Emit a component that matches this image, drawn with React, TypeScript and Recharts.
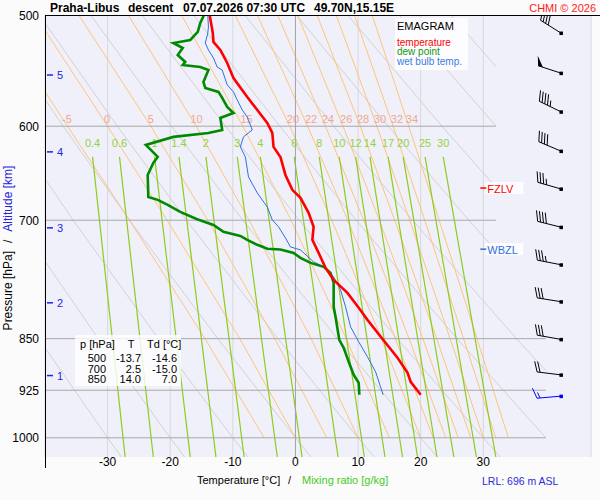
import React from 'react'
import { ScatterChart, Scatter, XAxis, YAxis, CartesianGrid } from 'recharts'

const FONT = '"Liberation Sans", Arial, sans-serif'

// axes
const tempTicks = [-30, -20, -10, 0, 10, 20, 30]
const pressureTicks = [500, 600, 700, 850, 925, 1000]
const isobarP = [600, 700, 850, 925, 1000]
const isobarEndT = [32, 32, 40, 40, 40]

// sounding: temperature
const tempP = [500, 515, 522.6, 529.5, 540.9, 554.4, 571.9, 584.2, 596.8, 606.7, 620.7, 631, 649.9, 666, 674.8, 691.6, 707.6, 722.9, 738.5, 756.9, 771.9, 788.5, 808.1, 824.2, 851.6, 877.1, 898.9, 912.3, 931.9]
const tempT = [-13.7, -13.2, -13.1, -12.0, -10.9, -9.9, -7.7, -6.1, -4.5, -3.7, -3.5, -2.4, -1.6, -0.5, 0.8, 2.1, 2.9, 2.7, 3.7, 4.8, 6.1, 8.3, 10.1, 11.5, 14.0, 16.3, 17.9, 18.4, 20.0]

// sounding: dew point
const dewP = [500, 506.6, 514.1, 520.9, 523.5, 527.8, 533.9, 540, 542.7, 544.5, 547.2, 558, 563.5, 567.2, 572.8, 581.4, 587.1, 591.9, 603.7, 606.7, 610.6, 618.7, 623.8, 631, 637.2, 649.9, 673.8, 677, 682.6, 690.5, 698.5, 705.4, 713.5, 718.2, 722.9, 728.8, 733.6, 734.5, 738.5, 744.6, 750.7, 755.6, 763.1, 775.7, 806.8, 820.1, 851.6, 862.8, 882.8, 901.9, 913.8, 931.9]
const dewT = [-14.6, -15.2, -15.6, -16.8, -19.5, -18.0, -18.8, -17.6, -18.0, -15.2, -13.9, -14.7, -14.4, -12.3, -11.7, -10.9, -9.9, -12.0, -11.7, -13.9, -19.5, -23.9, -23.1, -22.0, -22.7, -23.6, -23.5, -22.0, -20.4, -18.4, -15.8, -13.1, -11.5, -8.8, -7.7, -6.1, -4.5, -2.4, -0.3, 0.8, 2.4, 4.5, 5.6, 6.1, 6.1, 6.4, 7.0, 7.7, 8.5, 9.3, 10.1, 10.2]

// sounding: wet bulb
const wbP = [500, 509.9, 515, 523.5, 529.5, 536.5, 544.5, 547.2, 560.7, 567.2, 574.7, 584.2, 591, 603.7, 610.6, 620.7, 631, 652, 669.3, 684.9, 699.6, 707.6, 720.6, 731.3, 734.9, 749.5, 755.6, 768.1, 784.6, 806.8, 833.7, 854.4, 875.7, 897.5, 931.9]
const wbT = [-14.0, -13.9, -14.0, -14.4, -13.9, -13.1, -12.5, -11.7, -10.9, -9.9, -9.3, -8.5, -7.7, -6.9, -8.3, -8.8, -8.0, -7.5, -6.1, -4.5, -3.7, -2.7, -1.6, -0.8, 0.8, 2.9, 4.6, 6.1, 7.2, 8.0, 8.8, 10.1, 11.5, 12.8, 14.0]

// saturated adiabats (wet bulb potential temperature)
const moistTheta = [-5, 0, 5, 10, 15, 20, 22, 24, 26, 28, 30, 32, 34]
const moistP = [500, 600, 700, 850, 1000]
const moistT = [
  [-48.0, -36.4, -26.5, -14.45, -5],
  [-41.6, -30.0, -20.5, -8.9, 0],
  [-34.6, -23.1, -14.0, -3.3, 5],
  [-26.7, -15.85, -7.4, 2.5, 10],
  [-18.2, -8.4, -0.7, 8.1, 15],
  [-9.65, -0.9, 5.8, 13.75, 20],
  [-6.1, 1.95, 8.35, 15.95, 22],
  [-2.85, 4.8, 10.9, 18.15, 24],
  [0.35, 7.6, 13.4, 20.35, 26],
  [3.45, 10.35, 15.85, 22.55, 28],
  [6.5, 13.0, 18.25, 24.7, 30],
  [9.4, 15.6, 20.65, 26.85, 32],
  [12.25, 18.1, 22.95, 29.0, 34],
]
const moistLabelT = [-36.5, -30.1, -23.1, -15.8, -7.8, -0.4, 2.5, 5.2, 8.1, 10.8, 13.5, 16.2, 18.6]

// dry adiabats
const dryP = [
  [500, 600, 700, 850, 1000, 1032],
  [500, 600, 700, 850, 1000, 1032],
  [500, 600, 700, 850, 1000, 1032],
  [500, 600, 700, 850, 1000, 1032],
  [500, 600, 700, 850, 1000, 1032],
  [500, 600, 700, 850, 1000, 1032],
  [500, 600, 700, 850, 1000, 1032],
  [500, 600, 700, 850, 1000],
  [500, 600, 700, 850, 895.7],
  [500, 600, 700, 735.5],
  [500, 600, 663.1],
  [500, 599.7],
  [500, 543.9],
]
const dryT = [
  [-73.7, -63.0, -53.6, -41.0, -30, -27.8],
  [-65.5, -54.4, -44.5, -31.5, -20, -17.7],
  [-57.3, -45.7, -35.5, -21.9, -10, -7.6],
  [-49.1, -37.1, -26.5, -12.4, 0, 2.5],
  [-40.9, -28.45, -17.4, -2.8, 10, 12.6],
  [-32.7, -19.8, -8.4, 6.7, 20, 22.65],
  [-24.5, -11.2, 0.6, 16.25, 30, 32.7],
  [-16.3, -2.5, 9.7, 25.8, 40],
  [-8.1, 6.1, 18.7, 35.3, 40],
  [0.15, 14.8, 27.7, 32],
  [8.35, 23.4, 32],
  [16.55, 32],
  [24.8, 32],
]

// saturation mixing ratio lines [g/kg]
const mixRatio = ['0.4', '0.6', '1', '1.4', '2', '3', '4', '6', '8', '10', '12', '14', '17', '20', '25', '30']
const mixTopP = 631
const mixBottomP = 1032
const mixTopT = [-32.4, -28.1, -22.5, -18.6, -14.3, -9.3, -5.6, -0.2, 3.8, 7.0, 9.6, 11.9, 14.8, 17.2, 20.7, 23.6]
const mixBottomT = [-27.2, -22.7, -16.8, -12.7, -8.2, -2.9, 1.05, 6.8, 11.0, 14.3, 17.1, 19.5, 22.6, 25.3, 28.9, 32.0]

// altitude marks [km]
const heightKm = [1, 2, 3, 4, 5]
const heightP = [903, 801.5, 708.8, 625.8, 551.7]

// freezing / wet bulb zero levels
const levelName = ['FZLV', 'WBZL']
const levelP = [664, 734]
const levelColor = ['#ff0000', '#2f6fe0']

// wind barbs
const windP = [515, 550, 586, 625, 665, 708, 753, 800, 851, 902, 934]
const windDir = [302, 288, 296, 293, 286, 284, 281, 279, 280, 277, 265]
const windKt = [40, 50, 45, 40, 35, 40, 35, 30, 30, 20, 15]

const toPts = (ps: number[], ts: number[]) => ps.map((p, i) => ({ p, t: ts[i] }))

const EmptyShape = () => <g />

function MoistLabel(props: any) {
  const { cx, cy, payload } = props
  return (
    <text x={cx} y={cy - 3} textAnchor="middle" fontSize={11} fontFamily={FONT} fill="#f4a58e">
      {payload.label}
    </text>
  )
}

function MixLabel(props: any) {
  const { cx, cy, payload } = props
  return (
    <text x={cx} y={cy - 10} textAnchor="middle" fontSize={11} fontFamily={FONT} fill="#94d23a">
      {payload.label}
    </text>
  )
}

function HeightMark(props: any) {
  const { cx, cy, payload } = props
  return (
    <g>
      <line x1={cx + 2} y1={cy} x2={cx + 8} y2={cy} stroke="#2424dd" strokeWidth={1.5} />
      <text x={cx + 12} y={cy + 4} fontSize={11} fontFamily={FONT} fill="#2424dd">{payload.label}</text>
    </g>
  )
}

function LevelMark(props: any) {
  const { cx, cy, payload } = props
  return (
    <g>
      <rect x={cx + 2} y={cy - 6} width={38} height={12} fill="#ffffff" fillOpacity={0.85} />
      <line x1={cx - 3} y1={cy} x2={cx + 3} y2={cy} stroke={payload.color} strokeWidth={1.5} />
      <text x={cx + 4} y={cy + 4.5} fontSize={11} fontFamily={FONT} fill={payload.color}>{payload.label}</text>
    </g>
  )
}

function WindBarb(props: any) {
  const { cx, cy, payload } = props
  const color = payload.color
  const a = (payload.dir * Math.PI) / 180
  const ux = Math.sin(a)
  const uy = -Math.cos(a)
  const L = 24
  const ex = cx + ux * L
  const ey = cy + uy * L
  const px = -uy
  const py = ux
  const fx = px * 0.94 + ux * 0.34
  const fy = py * 0.94 + uy * 0.34
  const parts: any[] = []
  let s = payload.spd
  let pos = 0
  while (s >= 50) {
    const bx = ex - ux * pos
    const by = ey - uy * pos
    const b2x = ex - ux * (pos + 5)
    const b2y = ey - uy * (pos + 5)
    parts.push(<polygon key={'p' + pos} points={`${bx},${by} ${b2x},${b2y} ${bx + fx * 10},${by + fy * 10}`} fill={color} />)
    pos += 6
    s -= 50
  }
  while (s >= 10) {
    const bx = ex - ux * pos
    const by = ey - uy * pos
    parts.push(<line key={'f' + pos} x1={bx} y1={by} x2={bx + fx * 11} y2={by + fy * 11} stroke={color} strokeWidth={1} />)
    pos += 3
    s -= 10
  }
  if (s >= 5) {
    if (pos === 0) pos = 3
    const bx = ex - ux * pos
    const by = ey - uy * pos
    parts.push(<line key="h" x1={bx} y1={by} x2={bx + fx * 6} y2={by + fy * 6} stroke={color} strokeWidth={1} />)
  }
  return (
    <g>
      <line x1={cx} y1={cy} x2={ex} y2={ey} stroke={color} strokeWidth={1} />
      {parts}
      <rect x={cx - 1.5} y={cy - 1.5} width={3.5} height={3.5} fill={color} />
    </g>
  )
}

function curve(key: string, data: any[], stroke: string, width: number) {
  return (
    <Scatter
      key={key}
      data={data}
      fill="none"
      line={{ stroke, strokeWidth: width }}
      shape={EmptyShape}
      isAnimationActive={false}
      legendType="none"
    />
  )
}

export default function App() {
  const isobars = isobarP.map((p, i) => toPts([p, p], [-40, isobarEndT[i]]))
  const dry = dryP.map((ps, i) => toPts(ps, dryT[i]))
  const moist = moistT.map((ts) => toPts(moistP, ts))
  const mix = mixTopT.map((t, i) => toPts([mixTopP, mixBottomP], [t, mixBottomT[i]]))
  const moistLabels = moistTheta.map((th, i) => ({ p: 600, t: moistLabelT[i], label: String(th) }))
  const mixLabels = mixRatio.map((w, i) => ({ p: mixTopP, t: mixTopT[i], label: w }))
  const heights = heightKm.map((h, i) => ({ p: heightP[i], t: -40, label: String(h) }))
  const levels = levelName.map((n, i) => ({ p: levelP[i], t: 30, label: n, color: levelColor[i] }))
  const winds = windP.map((p, i) => ({
    p,
    t: 42.4,
    dir: windDir[i],
    spd: windKt[i],
    color: i === windP.length - 1 ? '#0000ff' : '#000000',
  }))

  const tick = (anchor: 'x' | 'y') => (props: any) => {
    const { x, y, payload } = props
    if (anchor === 'x') {
      return (
        <text x={x} y={466} textAnchor="middle" fontSize={12} fontFamily={FONT} fill="#000">
          {payload.value}
        </text>
      )
    }
    return (
      <text x={39} y={y + 4.5} textAnchor="end" fontSize={12} fontFamily={FONT} fill="#000">
        {payload.value}
      </text>
    )
  }

  return (
    <div style={{ position: 'absolute', left: 0, top: 0, width: 600, height: 500, background: '#fbfbfb', fontFamily: FONT }}>
      <ScatterChart width={600} height={500} margin={{ top: 15, right: 9, left: 0, bottom: 0 }}>
        <CartesianGrid fill="#f0f0fb" horizontal={false} stroke="#d8d8d8" />
        <XAxis
          type="number"
          dataKey="t"
          domain={[-40, 47.2]}
          ticks={tempTicks}
          allowDataOverflow
          axisLine={false}
          tickLine={false}
          height={43}
          tick={tick('x')}
        />
        <YAxis
          type="number"
          dataKey="p"
          scale="log"
          domain={[500, 1032]}
          reversed
          ticks={pressureTicks}
          allowDataOverflow
          axisLine={false}
          tickLine={false}
          width={45}
          tick={tick('y')}
        />
        {dry.map((d, i) => curve('dry' + i, d, '#d2d2d2', 1))}
        {moist.map((d, i) => curve('moist' + i, d, '#ffc47c', 1))}
        {mix.map((d, i) => curve('mix' + i, d, '#8ccc1c', 1.2))}
        {curve('iso0', toPts([500, 1032], [0, 0]), '#a4a4a4', 1)}
        {isobars.map((d, i) => curve('isobar' + i, d, '#a8a8a8', 1))}
        <Scatter data={moistLabels} shape={MoistLabel} isAnimationActive={false} legendType="none" />
        <Scatter data={mixLabels} shape={MixLabel} isAnimationActive={false} legendType="none" />
        <Scatter data={heights} shape={HeightMark} isAnimationActive={false} legendType="none" />
        {curve('wetbulb', toPts(wbP, wbT), '#2f6fe0', 1)}
        {curve('dew', toPts(dewP, dewT), '#008a00', 2.6)}
        {curve('temp', toPts(tempP, tempT), '#ff0000', 2.6)}
        <Scatter data={levels} shape={LevelMark} isAnimationActive={false} legendType="none" />
        <Scatter data={winds} shape={WindBarb} isAnimationActive={false} legendType="none" />
      </ScatterChart>

      <svg width={600} height={500} style={{ position: 'absolute', left: 0, top: 0, pointerEvents: 'none' }}>
        <line x1={45} y1={15.5} x2={600} y2={15.5} stroke="#000" strokeWidth={1} />
        <line x1={45.5} y1={15} x2={45.5} y2={468} stroke="#000" strokeWidth={1} />

        <g fontFamily={FONT} fontSize={12} fontWeight="bold" fill="#000">
          <text x={50} y={11.5}>Praha-Libus</text>
          <text x={128} y={11.5}>descent</text>
          <text x={183} y={11.5}>07.07.2026 07:30 UTC</text>
          <text x={314} y={11.5}>49.70N,15.15E</text>
        </g>
        <text x={596} y={11.5} textAnchor="end" fontFamily={FONT} fontSize={11} fill="#ff1a1a">CHMI © 2026</text>

        <rect x={395} y={18} width={73} height={52} fill="#ffffff" fillOpacity={0.85} />
        <text x={397} y={30} fontFamily={FONT} fontSize={11} fill="#000">EMAGRAM</text>
        <text x={397} y={45.5} fontFamily={FONT} fontSize={10} fill="#ff0000">temperature</text>
        <text x={397} y={55} fontFamily={FONT} fontSize={10} fill="#119911">dew point</text>
        <text x={397} y={65} fontFamily={FONT} fontSize={10} fill="#3a7de0">wet bulb temp.</text>

        <rect x={75} y={335} width={106} height={51} fill="#ffffff" fillOpacity={0.8} />
        <g fontFamily={FONT} fontSize={11} fill="#000">
          <text x={80} y={348}>p [hPa]</text>
          <text x={131} y={348} textAnchor="middle">T</text>
          <text x={147} y={348}>Td [°C]</text>
          <text x={106} y={362} textAnchor="end">500</text>
          <text x={141} y={362} textAnchor="end">-13.7</text>
          <text x={177} y={362} textAnchor="end">-14.6</text>
          <text x={106} y={372.5} textAnchor="end">700</text>
          <text x={141} y={372.5} textAnchor="end">2.5</text>
          <text x={177} y={372.5} textAnchor="end">-15.0</text>
          <text x={106} y={383} textAnchor="end">850</text>
          <text x={141} y={383} textAnchor="end">14.0</text>
          <text x={177} y={383} textAnchor="end">7.0</text>
        </g>

        <text x={12} y={248} transform="rotate(-90 12 248)" textAnchor="middle" fontFamily={FONT} fontSize={12}>
          <tspan fill="#000">Pressure [hPa]</tspan>
          <tspan fill="#000" dx={8}>/</tspan>
          <tspan fill="#2424dd" dx={8}>Altitude [km]</tspan>
        </text>

        <text x={197} y={484} fontFamily={FONT} fontSize={11} fill="#000">Temperature [°C]</text>
        <text x={288} y={484} fontFamily={FONT} fontSize={11} fill="#000">/</text>
        <text x={302} y={484} fontFamily={FONT} fontSize={11} fill="#44cc22">Mixing ratio [g/kg]</text>
        <text x={482} y={485} fontFamily={FONT} fontSize={10.5} fill="#2b2bd9">LRL: 696 m ASL</text>
      </svg>
    </div>
  )
}
